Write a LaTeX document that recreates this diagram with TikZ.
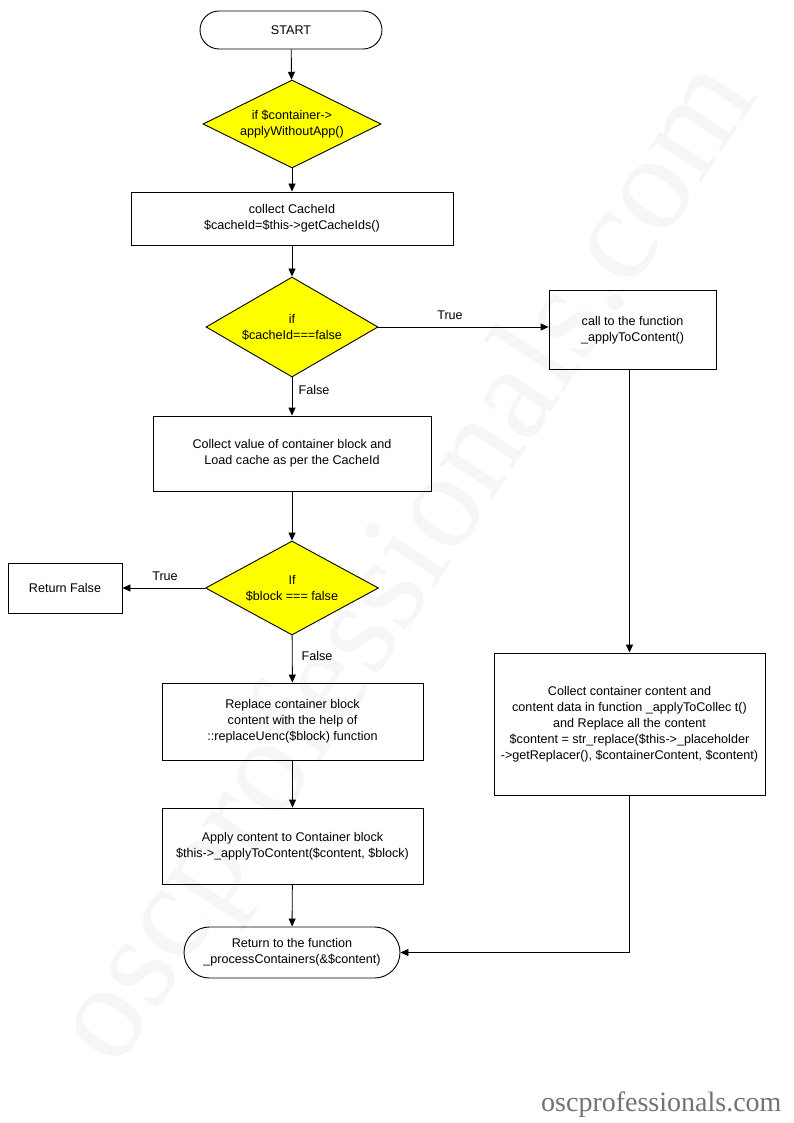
\documentclass[tikz,border=0pt]{standalone}
\usepackage{fontspec}
\setmainfont{Liberation Sans}
\newfontfamily\wmfont{Liberation Serif}
\usetikzlibrary{shapes.geometric,shapes.misc,arrows.meta}
\definecolor{dyellow}{HTML}{FFFF00}
\tikzset{
 base/.style={font=\fontsize{12.6}{16}\selectfont, align=center, text=black},
 proc/.style={base, draw, line width=0.9pt, rectangle, inner sep=0pt},
 dec/.style={base, draw, line width=0.9pt, fill=dyellow, diamond, inner sep=0pt},
 term/.style={base, draw, line width=0.9pt, rounded rectangle, inner sep=0pt},
 arr/.style={-{Triangle[length=8pt,width=7pt]}, line width=0.9pt},
 lab/.style={font=\fontsize{12.6}{14}\selectfont, inner sep=1pt}
}
\begin{document}
\begin{tikzpicture}[x=1pt,y=-1pt]
\useasboundingbox (0,0) rectangle (794,1123);
\fill[white] (0,0) rectangle (794,1123);
% watermark
\node[font=\wmfont\fontsize{136}{136}\selectfont, text=black!3.5, rotate=56.6] (wm) at (410,565) {oscprofessionals.com};
\node[font=\wmfont\fontsize{28}{28}\selectfont, text=black!55, anchor=east] (foot) at (785,1105) {oscprofessionals.com};
% nodes
\node[term, minimum width=182pt, minimum height=38pt] (start) at (291,30) {START};
\node[dec, aspect=2.02, minimum width=178pt, minimum height=88pt] (d1) at (292,124) {if \$container->\\applyWithoutApp()};
\node[proc, minimum width=322pt, minimum height=53pt] (b1) at (292,218.5) {collect CacheId\\\$cacheId=\$this->getCacheIds()};
\node[dec, aspect=1.72, minimum width=172pt, minimum height=100pt] (d2) at (292,327) {if\\\$cacheId===false};
\node[proc, minimum width=167pt, minimum height=79pt] (r1) at (632.5,330) {call to the function\\\_applyToContent()};
\node[proc, minimum width=278pt, minimum height=75pt] (b2) at (292,453.5) {Collect value of container block and\\Load cache as per the CacheId};
\node[dec, aspect=1.84, minimum width=173pt, minimum height=94pt] (d3) at (292,588) {If\\\$block === false};
\node[proc, minimum width=114pt, minimum height=50pt] (rf) at (65,588) {Return False};
\node[proc, minimum width=261pt, minimum height=77pt] (b3) at (292.5,721.5) {Replace container block\\content with the help of\\::replaceUenc(\$block) function};
\node[proc, minimum width=261pt, minimum height=76pt] (b4) at (292.5,846) {Apply content to Container block\\\$this->\_applyToContent(\$content, \$block)};
\node[proc, minimum width=271pt, minimum height=142pt] (r2) at (629.5,724) {Collect container content and\\content data in function \_applyToCollec t()\\and Replace all the content\\\$content = str\_replace(\$this->\_placeholder\\->getReplacer(), \$containerContent, \$content)};
\node[term, minimum width=216pt, minimum height=51pt] (end) at (292,952.5) {Return to the function\\\_processContainers(\&\$content)};
% labels
\node[lab] (t1) at (450,315) {True};
\node[lab] (f1) at (314,390) {False};
\node[lab] (t2) at (165,576) {True};
\node[lab] (f2) at (317,656) {False};
% connectors
\draw[arr] (start) -- (d1);
\draw[arr] (d1) -- (b1);
\draw[arr] (b1) -- (d2);
\draw[arr] (d2.east) -- (d2.east -| r1.west);
\draw[arr] (d2) -- (b2);
\draw[arr] (b2) -- (d3);
\draw[arr] (d3.west) -- (rf.east);
\draw[arr] (d3) -- (b3);
\draw[arr] (b3) -- (b4);
\draw[arr] (b4) -- (end);
\draw[arr] (r2.north |- r1.south) -- (r2.north);
\draw[arr] (r2.south) -- (r2.south |- end.east) -- (end.east);
\end{tikzpicture}
\end{document}
